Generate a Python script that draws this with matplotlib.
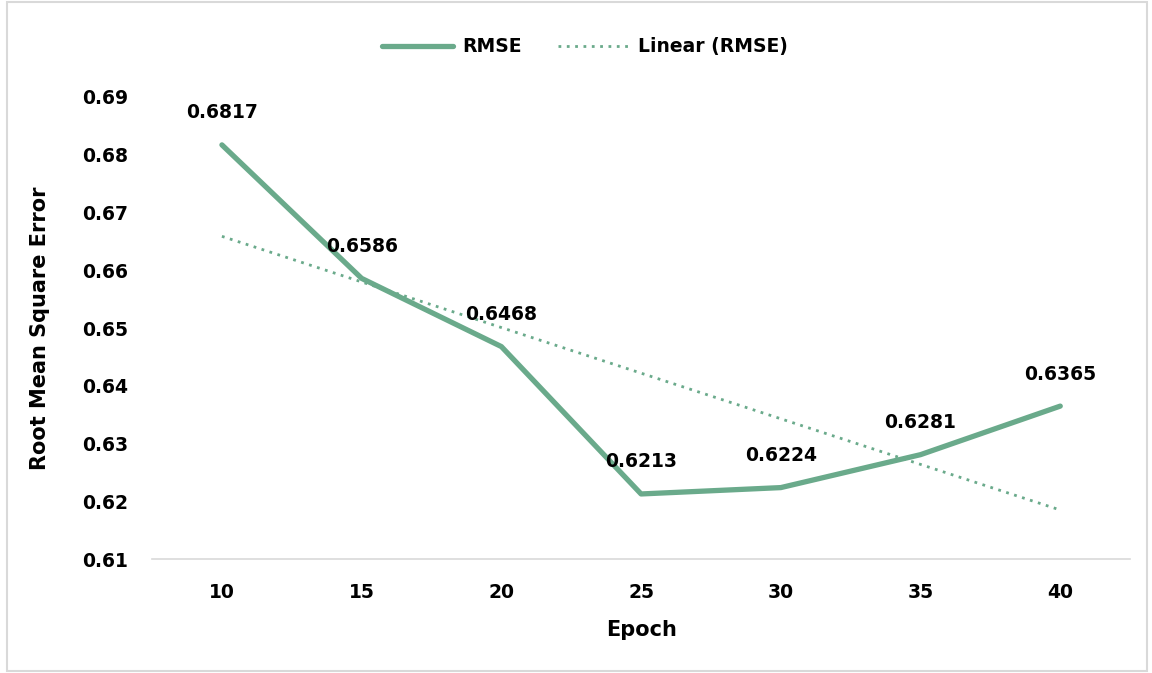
import numpy as np
import matplotlib.pyplot as plt
from matplotlib.patches import Rectangle

epochs = ['10', '15', '20', '25', '30', '35', '40']
rmse = [0.6817, 0.6586, 0.6468, 0.6213, 0.6224, 0.6281, 0.6365]

plt.rcParams['font.family'] = ['DejaVu Sans']
plt.rcParams['font.weight'] = 'bold'

green = '#6aaa8b'
fs = 13.5

fig = plt.figure(figsize=(11.52, 6.73), dpi=100)
ax = fig.add_axes([0.132, 0.169, 0.849, 0.687])

x = np.arange(len(epochs))
ax.plot(x, rmse, color=green, lw=3.8, solid_capstyle='round', label='RMSE')

# linear trend line like excel
k, b = np.polyfit(x, rmse, 1)
ax.plot(x, k * x + b, color=green, lw=2, ls=(0, (1, 2)), label='Linear (RMSE)')

for xi, v in zip(x, rmse):
    ax.annotate('%.4f' % v, (xi, v), xytext=(0, 32), textcoords='offset pixels',
                ha='center', va='center', fontsize=fs, fontweight='bold')

ax.set_xlim(-0.5, len(epochs) - 0.5)
ax.set_ylim(0.61, 0.69)
ax.set_yticks(np.arange(0.61, 0.6901, 0.01))
ax.set_yticklabels(['%.2f' % t for t in np.arange(0.61, 0.6901, 0.01)])
ax.set_xticks(x)
ax.set_xticklabels(epochs)
ax.tick_params(length=0, labelsize=fs)
ax.tick_params(axis='x', pad=17)
ax.tick_params(axis='y', pad=17)
for s in ['top', 'right', 'left']:
    ax.spines[s].set_visible(False)
ax.spines['bottom'].set_color('#d9d9d9')
ax.spines['bottom'].set_linewidth(1.2)

ax.set_xlabel('Epoch', fontsize=15, fontweight='bold', labelpad=13)
ax.set_ylabel('Root Mean Square Error', fontsize=15, fontweight='bold', labelpad=23)

fig.legend(loc='upper center', bbox_to_anchor=(0.508, 0.97), ncol=2, frameon=False,
           prop={'size': fs, 'weight': 'bold'}, handlelength=3.8, columnspacing=1.9,
           handletextpad=0.5)

fig.patches.append(Rectangle((0.006, 0.003), 0.99, 0.994, transform=fig.transFigure,
                             fill=False, edgecolor='#d9d9d9', lw=1.5))

fig.savefig('out.png', dpi=100)
